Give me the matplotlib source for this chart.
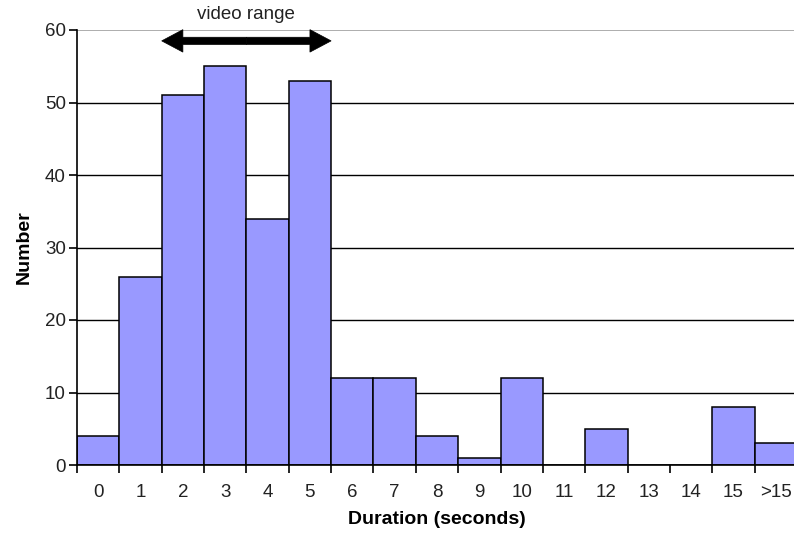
import matplotlib.pyplot as plt
import numpy as np

plt.rcParams['font.family'] = ['Liberation Sans', 'DejaVu Sans']

categories = ["0", "1", "2", "3", "4", "5", "6", "7", "8", "9",
              "10", "11", "12", "13", "14", "15", ">15"]
counts = [4, 26, 51, 55, 34, 53, 12, 12, 4, 1, 12, 0, 5, 0, 0, 8, 3]
video_range = (2, 5)  # first and last category inside the video range

fig = plt.figure(figsize=(7.94, 5.37), dpi=100)
ax = fig.add_axes([77 / 794, 72 / 537, 720 / 794, 435 / 537])

x = np.arange(len(categories))

# gridlines behind the bars
for yv in range(10, 60, 10):
    ax.axhline(yv, color='black', lw=1.0, zorder=0)
ax.axhline(60, color='#a0a0a0', lw=1.2, zorder=0)

ax.bar(x, counts, width=1.0, color='#9999ff', edgecolor='black', lw=1.1, zorder=2)

ax.set_xlim(-0.5, len(categories) - 0.5)
ax.set_ylim(0, 60)
ax.set_yticks(range(0, 61, 10))
ax.set_xticks(x)
ax.set_xticklabels(categories)
ax.set_xticks(np.arange(-0.5, len(categories), 1.0), minor=True)
ax.tick_params(axis='x', which='major', length=0, pad=14, labelsize=13.5, labelcolor='#222222')
ax.tick_params(axis='x', which='minor', length=6, width=1.2, direction='out')
ax.tick_params(axis='y', length=6, width=1.2, direction='out', labelsize=13.5,
               labelcolor='#222222', pad=2)

for side in ('top', 'right'):
    ax.spines[side].set_visible(False)
ax.spines['left'].set_linewidth(1.2)
ax.spines['bottom'].set_linewidth(1.2)
ax.spines['bottom'].set_zorder(3)

ax.set_xlabel("Duration (seconds)", fontsize=14, fontweight='bold', labelpad=7)
ax.set_ylabel("Number", fontsize=14, fontweight='bold', labelpad=9)

# double arrow marking the video range, drawn as two sharp arrows from the centre
lo, hi = video_range[0] - 0.5, video_range[1] + 0.5
mid = (lo + hi) / 2
for end in (lo, hi):
    ax.arrow(mid, 58.5, end - mid, 0, width=1.0, head_width=3.1, head_length=0.5,
             length_includes_head=True, fc='black', ec='black', lw=0.5,
             clip_on=False, zorder=4)
ax.text(mid, 60.9, "video range", ha='center', va='bottom', fontsize=13.5, color='#222222')

fig.savefig("out.png", dpi=100)
